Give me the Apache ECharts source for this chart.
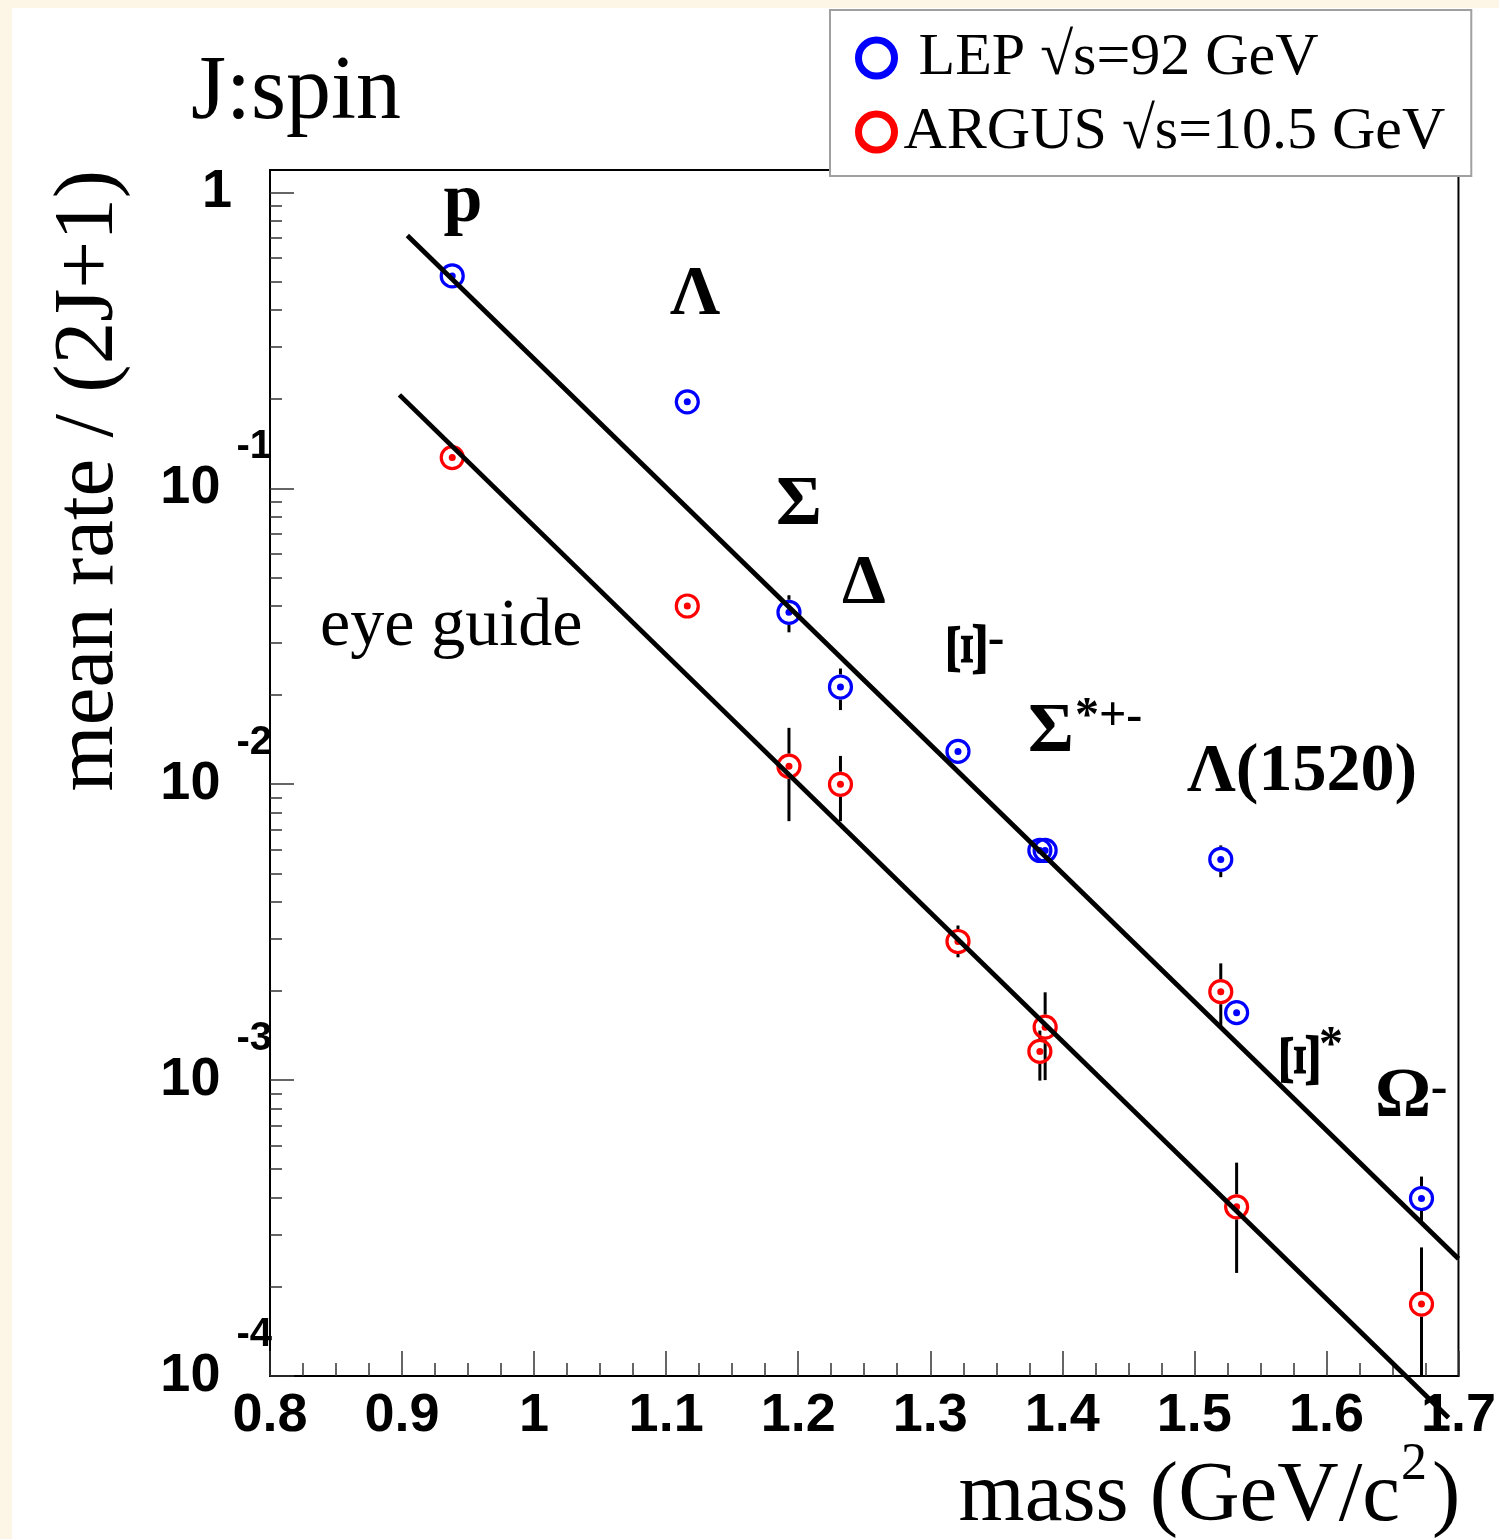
<!DOCTYPE html>
<html><head><meta charset="utf-8">
<script src="https://cdn.jsdelivr.net/npm/echarts@6/dist/echarts.min.js"></script>
<style>
html,body{margin:0;padding:0;background:#fdf5e6;overflow:hidden;}
#panel{position:absolute;left:12px;top:8px;width:1487px;height:1531px;background:#fff;}
#chart{position:absolute;left:0;top:0;width:1499px;height:1539px;}
</style></head><body>
<div id="panel"></div><div id="chart"></div>
<script>
// ---- data ----
const particles = ['p', 'Λ', 'Σ', 'Δ', 'Ξ-', 'Σ*+', 'Σ*-', 'Λ(1520)', 'Ξ*', 'Ω-'];
const masses = [0.938, 1.116, 1.193, 1.232, 1.321, 1.383, 1.387, 1.520, 1.532, 1.672];
const lepRate = [0.522, 0.196, 0.0381, 0.0213, 0.0129, 0.00597, 0.00597, 0.00557, 0.00169, 0.000398];
const lepLow  = [0.522, 0.196, 0.0326, 0.0178, 0.0129, 0.00597, 0.00597, 0.00485, 0.00169, 0.000330];
const lepHigh = [0.522, 0.196, 0.0435, 0.0246, 0.0129, 0.00597, 0.00597, 0.00621, 0.00169, 0.000472];
const argusRate = [0.127, 0.0400, 0.0115, 0.00999, 0.00294, 0.00125, 0.00151, 0.00199, 0.000373, 0.000175];
const argusLow  = [0.127, 0.0400, 0.0075, 0.0075, 0.00260, 0.000996, 0.00100, 0.00151, 0.000223, 0.000100];
const argusHigh = [0.127, 0.0400, 0.0155, 0.01246, 0.00333, 0.00147, 0.00198, 0.00248, 0.000526, 0.000272];
const guideUpperX = [0.904, 1.7];
const guideUpperY = [0.715, 0.000249];
const guideLowerX = [0.898, 1.6925];
const guideLowerY = [0.2068, 0.0000723];
const xTickLabels = ['0.8', '0.9', '1', '1.1', '1.2', '1.3', '1.4', '1.5', '1.6', '1.7'];
const yTickValues = [1, 0.1, 0.01, 0.001, 0.0001];
const yTickLabels = ['1', '10^-1', '10^-2', '10^-3', '10^-4'];
const legendNames = [' LEP √s=92 GeV', 'ARGUS √s=10.5 GeV'];

// ---- helpers ----
const BLUE = '#0000ff', RED = '#ff0000';
const yMinor = [];
for (let k = -4; k <= -1; k++) for (let m = 2; m <= 9; m++) yMinor.push(m * Math.pow(10, k));

function pts(xs, ys) { return xs.map((x, i) => [x, ys[i]]); }
function errData(xs, lo, hi, v) { return xs.map((x, i) => [x, lo[i], hi[i], v[i]]); }
function errRender(params, api) {
  const x = api.value(0), lo = api.value(1), hi = api.value(2), v = api.value(3);
  const pH = api.coord([x, hi]), pL = api.coord([x, lo]), pC = api.coord([x, v]);
  const r = 12.5, ch = [];
  const st = { stroke: '#000', lineWidth: 3 };
  if (pH[1] < pC[1] - r) ch.push({ type: 'line', shape: { x1: pC[0], y1: pH[1], x2: pC[0], y2: pC[1] - r }, style: st });
  if (pL[1] > pC[1] + r) ch.push({ type: 'line', shape: { x1: pC[0], y1: pC[1] + r, x2: pC[0], y2: pL[1] }, style: st });
  return { type: 'group', children: ch };
}
function ring(name, color, data) {
  return { name: name, type: 'scatter', data: data, symbol: 'circle', symbolSize: 22, z: 3,
    itemStyle: { color: 'rgba(255,255,255,0)', borderColor: color, borderWidth: 3.2, opacity: 1 }, emphasis: { disabled: true }, silent: true };
}
function dot(color, data) {
  return { type: 'scatter', data: data, symbol: 'circle', symbolSize: 7, z: 3,
    itemStyle: { color: color, opacity: 1 }, emphasis: { disabled: true }, silent: true };
}
function guide(data) {
  return { type: 'line', data: data, showSymbol: false, symbol: 'none', clip: false, z: 4,
    lineStyle: { color: '#000', width: 4.8 }, emphasis: { disabled: true }, silent: true };
}
const SERIF = '"Liberation Serif", "Times New Roman", serif';
const SANS = '"Liberation Sans", Arial, sans-serif';
function txt(t, x, y, font, opts) {
  return Object.assign({ type: 'text', x: x, y: y, z: 10,
    style: Object.assign({ text: t, font: font, fill: '#000', textAlign: 'center', textVerticalAlign: 'middle' }, (opts && opts.style) || {}) },
    (opts && opts.el) || {});
}
const B70 = 'bold 70px ' + SERIF;
const XI_EL = { rotation: Math.PI / 2, scaleX: 1.25, scaleY: 0.82 };

const chart = echarts.init(document.getElementById('chart'), null, { renderer: 'canvas' });
chart.setOption({
  backgroundColor: 'transparent',
  animation: false,
  grid: { left: 270, top: 170, right: 37, bottom: 163, show: true, borderColor: '#000', borderWidth: 2, backgroundColor: 'transparent' },
  legend: {
    left: 830, top: 10, orient: 'vertical', selectedMode: false,
    padding: [14, 26, 10, 25], itemWidth: 36, itemHeight: 36, itemGap: 6,
    backgroundColor: '#fff', borderColor: '#a0a0a0', borderWidth: 2,
    textStyle: { fontFamily: SERIF, fontSize: 60, color: '#000', lineHeight: 68, padding: [0, 0, 0, 4] },
    data: [
      { name: legendNames[0], icon: 'circle', itemStyle: { color: '#fff', borderColor: BLUE, borderWidth: 7, opacity: 1 } },
      { name: legendNames[1], icon: 'circle', itemStyle: { color: '#fff', borderColor: RED, borderWidth: 7, opacity: 1 } }
    ]
  },
  xAxis: {
    type: 'value', min: 0.8, max: 1.7, interval: 0.1,
    axisLine: { show: true, lineStyle: { color: '#000', width: 2 } },
    axisTick: { show: true, inside: true, length: 25, lineStyle: { color: '#333', width: 1.5 } },
    minorTick: { show: true, splitNumber: 4, length: 13, lineStyle: { color: '#333', width: 1.5 } },
    splitLine: { show: false },
    axisLabel: { margin: 13, fontFamily: SANS, fontWeight: 'bold', fontSize: 54, color: '#000',
      formatter: function (v) { return xTickLabels[Math.round((v - 0.8) * 10)]; } }
  },
  yAxis: [{
    type: 'log', min: 0.0001, max: 1.19, logBase: 10, position: 'left',
    axisLine: { show: true, lineStyle: { color: '#000', width: 2 } },
    axisTick: { show: true, inside: true, length: 24, customValues: yTickValues, lineStyle: { color: '#333', width: 1.5 } },
    splitLine: { show: false },
    axisLabel: {
      customValues: yTickValues, margin: -2, color: '#000',
      formatter: function (v) {
        let i = 0, best = 1e9;
        yTickValues.forEach((t, j) => { const d = Math.abs(Math.log10(t) - Math.log10(v)); if (d < best) { best = d; i = j; } });
        const s = yTickLabels[i];
        if (s.indexOf('^') < 0) return '{one|' + s + '}';
        const parts = s.split('^');
        return '{b|' + parts[0] + '}{e|' + parts[1] + '}';
      },
      rich: {
        one: { fontFamily: SANS, fontWeight: 'bold', fontSize: 54, color: '#000', padding: [0, 40, 0, 0] },
        b: { fontFamily: SANS, fontWeight: 'bold', fontSize: 54, color: '#000', lineHeight: 122, verticalAlign: 'middle' },
        e: { fontFamily: SANS, fontWeight: 'bold', fontSize: 40, color: '#000', lineHeight: 40, verticalAlign: 'top', padding: [0, 0, 0, 16] }
      }
    }
  }, {
    type: 'log', min: 0.0001, max: 1.19, logBase: 10, position: 'left',
    axisLine: { show: false },
    axisTick: { show: true, inside: true, length: 12, customValues: yMinor, lineStyle: { color: '#333', width: 1.5 } },
    axisLabel: { show: false }, splitLine: { show: false }
  }],
  series: [
    { type: 'custom', renderItem: errRender, data: errData(masses, lepLow, lepHigh, lepRate), encode: { x: 0, y: [1, 2, 3] }, z: 2, silent: true, clip: true },
    { type: 'custom', renderItem: errRender, data: errData(masses, argusLow, argusHigh, argusRate), encode: { x: 0, y: [1, 2, 3] }, z: 2, silent: true, clip: true },
    ring(legendNames[0], BLUE, pts(masses, lepRate)),
    dot(BLUE, pts(masses, lepRate)),
    ring(legendNames[1], RED, pts(masses, argusRate)),
    dot(RED, pts(masses, argusRate)),
    guide(pts(guideUpperX, guideUpperY)),
    guide(pts(guideLowerX, guideLowerY))
  ],
  graphic: [
    txt('J:spin', 191, 94, '90px ' + SERIF, { style: { textAlign: 'left' } }),
    txt('eye guide', 320, 627, '68px ' + SERIF, { style: { textAlign: 'left' } }),
    txt('mean rate / (2J+1)', 90, 170, '85px ' + SERIF, { style: { textAlign: 'right' }, el: { rotation: Math.PI / 2 } }),
    txt('mass (GeV/c', 1400, 1498, '85px ' + SERIF, { style: { textAlign: 'right' } }),
    txt('2', 1401, 1465, '52px ' + SERIF, { style: { textAlign: 'left' } }),
    txt(')', 1432, 1498, '85px ' + SERIF, { style: { textAlign: 'left' } }),
    txt('p', 463, 203, B70),
    txt('Λ', 695, 296, B70),
    txt('Σ', 799, 506, B70),
    txt('Δ', 864, 585, B70),
    txt('Ξ', 971, 649, B70, { el: XI_EL }),
    txt('-', 996, 641, 'bold 50px ' + SERIF),
    txt('Σ', 1051, 733, B70),
    txt('*+-', 1075, 718, 'bold 48px ' + SERIF, { style: { textAlign: 'left' } }),
    txt('Λ(1520)', 1187, 772, 'bold 68px ' + SERIF, { style: { textAlign: 'left' } }),
    txt('Ξ', 1304, 1060, B70, { el: XI_EL }),
    txt('*', 1331, 1047, 'bold 48px ' + SERIF),
    txt('Ω', 1403, 1098, B70),
    txt('-', 1439, 1090, 'bold 50px ' + SERIF)
  ]
});
</script></body></html>
